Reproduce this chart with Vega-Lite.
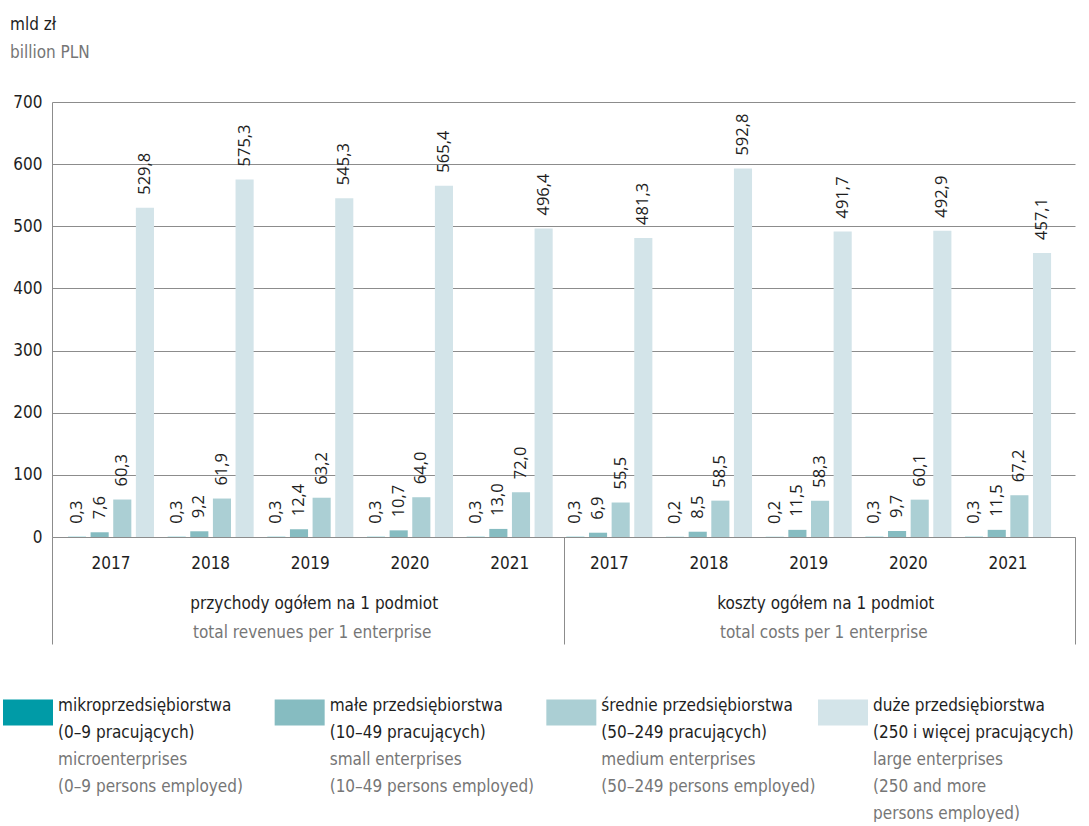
{
  "$schema": "https://vega.github.io/schema/vega-lite/v6.json",
  "background": "white",
  "padding": {"left": 3, "top": 16, "right": 0, "bottom": 0},
  "spacing": 52,
  "datasets": {
    "bars": [
      {"g": "przychody", "key": "P 2017", "cat": "mikro", "v": 0.3},
      {"g": "przychody", "key": "P 2017", "cat": "małe", "v": 7.6},
      {"g": "przychody", "key": "P 2017", "cat": "średnie", "v": 60.3},
      {"g": "przychody", "key": "P 2017", "cat": "duże", "v": 529.8},
      {"g": "przychody", "key": "P 2018", "cat": "mikro", "v": 0.3},
      {"g": "przychody", "key": "P 2018", "cat": "małe", "v": 9.2},
      {"g": "przychody", "key": "P 2018", "cat": "średnie", "v": 61.9},
      {"g": "przychody", "key": "P 2018", "cat": "duże", "v": 575.3},
      {"g": "przychody", "key": "P 2019", "cat": "mikro", "v": 0.3},
      {"g": "przychody", "key": "P 2019", "cat": "małe", "v": 12.4},
      {"g": "przychody", "key": "P 2019", "cat": "średnie", "v": 63.2},
      {"g": "przychody", "key": "P 2019", "cat": "duże", "v": 545.3},
      {"g": "przychody", "key": "P 2020", "cat": "mikro", "v": 0.3},
      {"g": "przychody", "key": "P 2020", "cat": "małe", "v": 10.7},
      {"g": "przychody", "key": "P 2020", "cat": "średnie", "v": 64.0},
      {"g": "przychody", "key": "P 2020", "cat": "duże", "v": 565.4},
      {"g": "przychody", "key": "P 2021", "cat": "mikro", "v": 0.3},
      {"g": "przychody", "key": "P 2021", "cat": "małe", "v": 13.0},
      {"g": "przychody", "key": "P 2021", "cat": "średnie", "v": 72.0},
      {"g": "przychody", "key": "P 2021", "cat": "duże", "v": 496.4},
      {"g": "koszty", "key": "K 2017", "cat": "mikro", "v": 0.3},
      {"g": "koszty", "key": "K 2017", "cat": "małe", "v": 6.9},
      {"g": "koszty", "key": "K 2017", "cat": "średnie", "v": 55.5},
      {"g": "koszty", "key": "K 2017", "cat": "duże", "v": 481.3},
      {"g": "koszty", "key": "K 2018", "cat": "mikro", "v": 0.2},
      {"g": "koszty", "key": "K 2018", "cat": "małe", "v": 8.5},
      {"g": "koszty", "key": "K 2018", "cat": "średnie", "v": 58.5},
      {"g": "koszty", "key": "K 2018", "cat": "duże", "v": 592.8},
      {"g": "koszty", "key": "K 2019", "cat": "mikro", "v": 0.2},
      {"g": "koszty", "key": "K 2019", "cat": "małe", "v": 11.5},
      {"g": "koszty", "key": "K 2019", "cat": "średnie", "v": 58.3},
      {"g": "koszty", "key": "K 2019", "cat": "duże", "v": 491.7},
      {"g": "koszty", "key": "K 2020", "cat": "mikro", "v": 0.3},
      {"g": "koszty", "key": "K 2020", "cat": "małe", "v": 9.7},
      {"g": "koszty", "key": "K 2020", "cat": "średnie", "v": 60.1},
      {"g": "koszty", "key": "K 2020", "cat": "duże", "v": 492.9},
      {"g": "koszty", "key": "K 2021", "cat": "mikro", "v": 0.3},
      {"g": "koszty", "key": "K 2021", "cat": "małe", "v": 11.5},
      {"g": "koszty", "key": "K 2021", "cat": "średnie", "v": 67.2},
      {"g": "koszty", "key": "K 2021", "cat": "duże", "v": 457.1}
    ],
    "groups": [
      {"pl": "przychody ogółem na 1 podmiot", "en": "total revenues per 1 enterprise"},
      {"pl": "koszty ogółem na 1 podmiot", "en": "total costs per 1 enterprise"}
    ],
    "seps": [
      {"s": "left"},
      {"s": "middle"},
      {"s": "right"}
    ],
    "legend": [
      {"cat": "mikro", "line": 1, "lang": "pl", "txt": "mikroprzedsiębiorstwa"},
      {"cat": "mikro", "line": 2, "lang": "pl", "txt": "(0–9 pracujących)"},
      {"cat": "mikro", "line": 3, "lang": "en", "txt": "microenterprises"},
      {"cat": "mikro", "line": 4, "lang": "en", "txt": "(0–9 persons employed)"},
      {"cat": "małe", "line": 1, "lang": "pl", "txt": "małe przedsiębiorstwa"},
      {"cat": "małe", "line": 2, "lang": "pl", "txt": "(10–49 pracujących)"},
      {"cat": "małe", "line": 3, "lang": "en", "txt": "small enterprises"},
      {"cat": "małe", "line": 4, "lang": "en", "txt": "(10–49 persons employed)"},
      {"cat": "średnie", "line": 1, "lang": "pl", "txt": "średnie przedsiębiorstwa"},
      {"cat": "średnie", "line": 2, "lang": "pl", "txt": "(50–249 pracujących)"},
      {"cat": "średnie", "line": 3, "lang": "en", "txt": "medium enterprises"},
      {"cat": "średnie", "line": 4, "lang": "en", "txt": "(50–249 persons employed)"},
      {"cat": "duże", "line": 1, "lang": "pl", "txt": "duże przedsiębiorstwa"},
      {"cat": "duże", "line": 2, "lang": "pl", "txt": "(250 i więcej pracujących)"},
      {"cat": "duże", "line": 3, "lang": "en", "txt": "large enterprises"},
      {"cat": "duże", "line": 4, "lang": "en", "txt": "(250 and more"},
      {"cat": "duże", "line": 5, "lang": "en", "txt": "persons employed)"}
    ]
  },
  "vconcat": [
    {
      "width": 1023,
      "height": 435,
      "title": {
        "text": "mld zł",
        "subtitle": "billion PLN",
        "anchor": "start",
        "frame": "group",
        "dx": -42,
        "offset": 31,
        "fontSize": 17,
        "fontWeight": "normal",
        "color": "#1e1e1e",
        "subtitleFontSize": 17,
        "subtitleColor": "#767676",
        "subtitlePadding": 11
      },
      "layer": [
        {
          "data": {"name": "bars"},
          "encoding": {
            "x": {
              "field": "key", "type": "nominal", "sort": null,
              "scale": {"paddingInner": 0.137, "paddingOuter": 0.2, "align": 0.4},
              "axis": {
                "orient": "bottom", "title": null,
                "labelExpr": "slice(datum.label, -4)",
                "ticks": false, "domain": true, "domainColor": "#8c8c8c",
                "labelPadding": 26, "labelBaseline": "middle", "labelAngle": 0,
                "labelFontSize": 17, "labelColor": "#1e1e1e"
              }
            },
            "xOffset": {
              "field": "cat", "type": "nominal",
              "sort": ["mikro", "małe", "średnie", "duże"],
              "scale": {"paddingInner": 0.2, "paddingOuter": 0}
            },
            "y": {
              "field": "v", "type": "quantitative",
              "scale": {"domain": [0, 700], "nice": false},
              "axis": {
                "title": null,
                "values": [0, 100, 200, 300, 400, 500, 600, 700],
                "grid": true, "gridColor": "#8c8c8c", "gridWidth": 1,
                "domainColor": "#8c8c8c", "ticks": false,
                "labelPadding": 10, "labelFontSize": 17, "labelColor": "#1e1e1e",
                "minExtent": 49
              }
            }
          },
          "layer": [
            {
              "mark": {"type": "bar"},
              "encoding": {
                "color": {
                  "field": "cat", "type": "nominal",
                  "scale": {
                    "domain": ["mikro", "małe", "średnie", "duże"],
                    "range": ["#009ba7", "#86bcc1", "#abcfd4", "#d3e4e9"]
                  },
                  "legend": null
                }
              }
            },
            {
              "mark": {
                "type": "text", "angle": 270, "align": "left", "baseline": "middle",
                "dx": 13, "font": "Open Sans", "fontSize": 16.5, "color": "#1e1e1e"
              },
              "encoding": {
                "text": {"field": "v", "type": "quantitative", "format": ".1f"}
              }
            }
          ]
        },
        {
          "data": {"name": "groups"},
          "mark": {"type": "point", "opacity": 0},
          "encoding": {
            "y": {"datum": 0, "type": "quantitative"},
            "x": {
              "field": "pl", "type": "nominal", "sort": null,
              "scale": {"paddingInner": 0, "paddingOuter": 0},
              "axis": {
                "orient": "bottom", "title": null, "domain": false, "ticks": false,
                "labelPadding": 66, "labelBaseline": "middle", "labelAngle": 0,
                "labelFontSize": 17, "labelColor": "#1e1e1e", "labelLimit": 1000,
                "labelOffset": 6
              }
            }
          }
        },
        {
          "data": {"name": "groups"},
          "mark": {"type": "point", "opacity": 0},
          "encoding": {
            "y": {"datum": 0, "type": "quantitative"},
            "x": {
              "field": "en", "type": "nominal", "sort": null,
              "scale": {"paddingInner": 0, "paddingOuter": 0},
              "axis": {
                "orient": "bottom", "title": null, "domain": false, "ticks": false,
                "labelPadding": 95, "labelBaseline": "middle", "labelAngle": 0,
                "labelFontSize": 17, "labelColor": "#767676", "labelLimit": 1000,
                "labelOffset": 4
              }
            }
          }
        },
        {
          "data": {"name": "seps"},
          "mark": {"type": "point", "opacity": 0},
          "encoding": {
            "y": {"datum": 0, "type": "quantitative"},
            "x": {
              "field": "s", "type": "nominal", "sort": null,
              "scale": {"type": "point", "padding": 0},
              "axis": {
                "orient": "bottom", "title": null, "domain": false, "labels": false,
                "ticks": true, "tickSize": 107, "tickColor": "#8c8c8c", "tickWidth": 1
              }
            }
          }
        }
      ],
      "resolve": {"scale": {"x": "independent"}, "axis": {"x": "independent"}}
    },
    {
      "width": 815,
      "height": 108,
      "data": {"name": "legend"},
      "encoding": {
        "x": {
          "field": "cat", "type": "nominal",
          "scale": {"type": "point", "padding": 0, "domain": ["mikro", "małe", "średnie", "duże"], "range": [-49, 766]},
          "axis": null
        },
        "y": {
          "field": "line", "type": "ordinal",
          "scale": {"type": "point", "padding": 0},
          "axis": null
        }
      },
      "layer": [
        {
          "transform": [{"filter": "datum.line == 1"}],
          "mark": {"type": "point", "shape": "M0,-0.26H2V0.78H0Z", "size": 2500, "filled": true, "opacity": 1, "strokeWidth": 0},
          "encoding": {
            "color": {
              "field": "cat", "type": "nominal",
              "scale": {
                "domain": ["mikro", "małe", "średnie", "duże"],
                "range": ["#009ba7", "#86bcc1", "#abcfd4", "#d3e4e9"]
              },
              "legend": null
            }
          }
        },
        {
          "mark": {"type": "text", "align": "left", "baseline": "middle", "dx": 55, "fontSize": 17},
          "encoding": {
            "text": {"field": "txt", "type": "nominal"},
            "fill": {
              "field": "lang", "type": "nominal",
              "scale": {"domain": ["pl", "en"], "range": ["#1e1e1e", "#767676"]},
              "legend": null
            }
          }
        }
      ]
    }
  ],
  "config": {
    "font": "DejaVu Sans Condensed, sans-serif",
    "view": {"stroke": null},
    "locale": {
      "number": {"decimal": ",", "thousands": " ", "grouping": [3], "currency": ["", " zł"]}
    }
  }
}
